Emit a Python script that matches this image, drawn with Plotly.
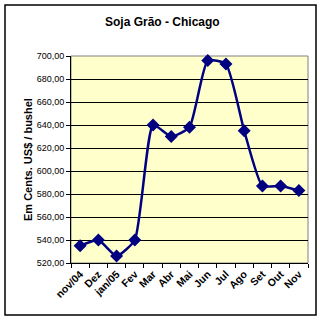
import plotly.graph_objects as go

categories = ["nov/04", "Dez", "jan/05", "Fev", "Mar", "Abr", "Mai", "Jun", "Jul", "Ago", "Set", "Out", "Nov"]
prices = [535.0, 540.0, 526.0, 540.0, 640.0, 630.0, 638.0, 696.0, 693.0, 635.0, 587.0, 587.0, 583.0]
y_ticks = [520, 540, 560, 580, 600, 620, 640, 660, 680, 700]
y_tick_labels = ["520,00", "540,00", "560,00", "580,00", "600,00", "620,00", "640,00", "660,00", "680,00", "700,00"]

W, H = 324, 322
L, R, T, B = 71, 308, 56, 263
pw, ph = R - L, B - T

def px(x):
    return (x - L) / pw

def py(y):
    return (B - y) / ph

fig = go.Figure()
fig.add_trace(go.Scatter(
    x=categories, y=prices, mode="lines+markers",
    line=dict(color="#000080", width=2.5, shape="spline", smoothing=0.5),
    marker=dict(symbol="diamond", size=10, color="#000080"),
    cliponaxis=False,
))

fig.update_layout(
    width=W, height=H,
    margin=dict(l=L, r=W - R, t=T, b=H - B),
    paper_bgcolor="white",
    plot_bgcolor="#FFFFCC",
    showlegend=False,
    font=dict(family="Liberation Sans, Arial, sans-serif", size=9, color="black"),
    xaxis=dict(
        type="category", range=[-0.5, len(categories) - 0.5],
        showgrid=False, showline=True, linecolor="black", linewidth=1,
        ticks="outside", ticklen=4, tickcolor="black", tickson="boundaries",
        tickangle=-45, tickfont=dict(family="Liberation Sans, Arial, sans-serif", size=10.5, color="black", weight="bold"),
        fixedrange=True,
    ),
    yaxis=dict(
        range=[520, 700], tickvals=y_ticks, ticktext=y_tick_labels,
        showgrid=True, gridcolor="black", gridwidth=1,
        showline=True, linecolor="black", linewidth=1,
        ticks="outside", ticklen=4, tickcolor="black",
        zeroline=False, fixedrange=True,
    ),
    shapes=[
        dict(type="rect", xref="paper", yref="paper", x0=0, x1=1, y0=0, y1=1,
             line=dict(color="#808080", width=1), layer="below"),
        dict(type="rect", xref="paper", yref="paper", x0=px(5), x1=px(316), y0=py(315), y1=py(5),
             line=dict(color="black", width=1.5)),
    ],
    annotations=[
        dict(text="<b>Soja Grão - Chicago</b>", xref="paper", yref="paper",
             x=px(162), y=py(22), showarrow=False, xanchor="center", yanchor="middle",
             font=dict(size=12, family="Liberation Sans, Arial, sans-serif")),
        dict(text="<b>Em Cents. US$ / bushel</b>", xref="paper", yref="paper",
             x=px(28), y=py(160), showarrow=False, xanchor="center", yanchor="middle",
             textangle=-90, font=dict(size=11, family="Liberation Sans, Arial, sans-serif")),
    ],
)

fig.write_html("out.html")
